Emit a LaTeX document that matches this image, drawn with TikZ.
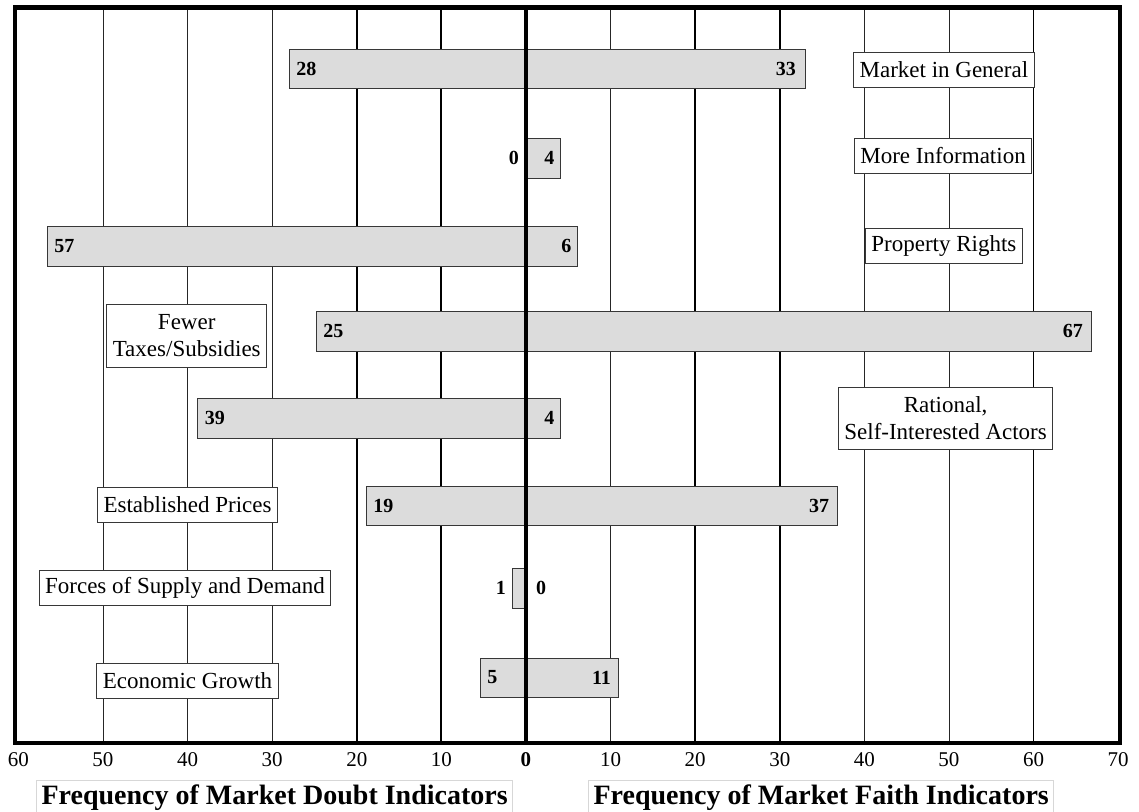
\documentclass[tikz,border=0pt]{standalone}
\usepackage{fontspec}
\setmainfont{Liberation Serif}
\usepackage{xcolor}
\usepackage{tikz}
\definecolor{barfill}{RGB}{220, 220, 220}
\definecolor{edgegray}{RGB}{55, 55, 55}
\definecolor{titlegray}{RGB}{215, 215, 215}

\begin{document}
\begin{tikzpicture}[x=8.46pt, y=-1pt,
  bar/.style={fill=barfill, draw=edgegray, line width=0.9pt},
  thingrid/.style={black!85, line width=0.9pt},
  thickgrid/.style={black, line width=1.8pt},
  catbox/.style={draw=edgegray, fill=white, line width=0.9pt, inner xsep=6pt,
    minimum height=35pt, align=center, font=\fontsize{23}{26.5}\selectfont},
  count/.style={font=\fontsize{20}{24}\selectfont\bfseries, inner sep=0pt},
  ticklab/.style={font=\fontsize{21}{24}\selectfont, inner sep=0pt},
  axtitle/.style={draw=titlegray, line width=0.8pt, inner xsep=5pt, inner ysep=4pt,
    font=\fontsize{28}{32}\selectfont\bfseries},
]
  \useasboundingbox (-62.17, 0) rectangle (72.46, 811);

  % Grid lines
  \foreach \x in {-50, -40, -30, 10, 40, 50} {
    \draw[thingrid] (\x, 7.5) -- (\x, 743);
  }
  \foreach \x in {-20, -10, 20, 30, 60} {
    \draw[thickgrid] (\x, 7.5) -- (\x, 743);
  }

  % Bars (doubt to the left, faith to the right)
  \draw[bar] (-28, 49) rectangle (33, 88);       % Market in General
  \draw[bar] (0, 138) rectangle (4.1, 178);       % More Information
  \draw[bar] (-56.6, 226) rectangle (6.1, 266);   % Property Rights
  \draw[bar] (-24.8, 311) rectangle (66.8, 351);  % Fewer Taxes/Subsidies
  \draw[bar] (-38.8, 398) rectangle (4.1, 438);   % Rational actors
  \draw[bar] (-18.9, 486) rectangle (36.8, 525);  % Established Prices
  \draw[bar] (-1.65, 568) rectangle (0, 608);     % Supply and Demand
  \draw[bar] (-5.4, 658) rectangle (10.9, 697);   % Economic Growth

  % Zero axis and frame
  \draw[black, line width=4pt] (0, 7.5) -- (0, 743);
  \draw[black, line width=4.6pt] (-60.4, 7.5) rectangle (70.2, 743);

  % Category labels
  \node[catbox] (mkt) at (49.4, 69.5) {Market in General};
  \node[catbox] (info) at (49.3, 156) {More Information};
  \node[catbox] (prop) at (49.4, 246) {Property Rights};
  \node[catbox, minimum height=63pt] (tax) at (-40.1, 335.5) {Fewer\\Taxes/Subsidies};
  \node[catbox, minimum height=62pt] (actor) at (49.6, 418) {Rational,\\Self-Interested Actors};
  \node[catbox] (price) at (-40, 505) {Established Prices};
  \node[catbox] (supply) at (-40.3, 588) {Forces of Supply and Demand};
  \node[catbox] (growth) at (-40, 680.5) {Economic Growth};

  % Counts at the bar ends
  \node[count, anchor=west] (mktl) at (-28, 68.5) [xshift=7pt] {28};
  \node[count, anchor=east] (mktr) at (33, 68.5) [xshift=-9pt] {33};
  \node[count, anchor=east] (infol) at (0, 158) [xshift=-7pt] {0};
  \node[count, anchor=east] (infor) at (4.1, 158) [xshift=-6pt] {4};
  \node[count, anchor=west] (propl) at (-56.6, 246) [xshift=7pt] {57};
  \node[count, anchor=east] (propr) at (6.1, 246) [xshift=-6pt] {6};
  \node[count, anchor=west] (taxl) at (-24.8, 331) [xshift=7pt] {25};
  \node[count, anchor=east] (taxr) at (66.8, 331) [xshift=-8pt] {67};
  \node[count, anchor=west] (actorl) at (-38.8, 418) [xshift=7pt] {39};
  \node[count, anchor=east] (actorr) at (4.1, 418) [xshift=-6pt] {4};
  \node[count, anchor=west] (pricel) at (-18.9, 505.5) [xshift=7pt] {19};
  \node[count, anchor=east] (pricer) at (36.8, 505.5) [xshift=-8pt] {37};
  \node[count, anchor=east] (supplyl) at (-1.65, 588) [xshift=-6pt] {1};
  \node[count, anchor=west] (supplyr) at (0, 588) [xshift=10pt] {0};
  \node[count, anchor=west] (growthl) at (-5.4, 677.5) [xshift=7pt] {5};
  \node[count, anchor=east] (growthr) at (10.9, 677.5) [xshift=-7pt] {11};

  % X-axis labels
  \foreach \x in {10, 20, 30, 40, 50, 60} {
    \node[ticklab] (tl\x) at (-\x, 760) {\x};
  }
  \foreach \x in {10, 20, 30, 40, 50, 60, 70} {
    \node[ticklab] (tr\x) at (\x, 760) {\x};
  }
  \node[ticklab, font=\fontsize{21}{24}\selectfont\bfseries] (t0) at (0, 760) {0};

  % Axis titles
  \node[axtitle, anchor=north] (doubt) at (-29.7, 780) {Frequency of Market Doubt Indicators};
  \node[axtitle, anchor=north] (faith) at (34.9, 780) {Frequency of Market Faith Indicators};

\end{tikzpicture}
\end{document}
